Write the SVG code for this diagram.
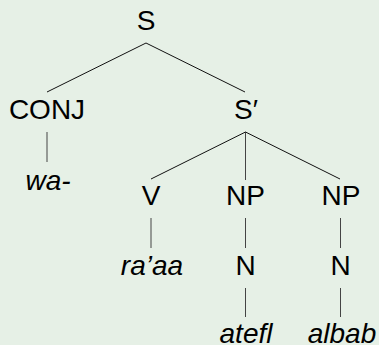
<svg xmlns="http://www.w3.org/2000/svg" width="379" height="345" viewBox="0 0 379 345">
  <style>
    .lbl { font-family: "Liberation Sans", Arial, sans-serif; font-size: 28px; fill: #000; text-anchor: middle; }
    .word { font-style: italic; }
    .edge { stroke: #111; stroke-width: 1; fill: none; }
    .stem { stroke: #444; stroke-width: 1; fill: none; }
  </style>
  <rect width="379" height="345" fill="#e6f0e6"/>

  <!-- tree branches -->
  <g id="connectors">
    <line class="edge" x1="146" y1="43" x2="47" y2="92"/>
    <line class="edge" x1="146" y1="43" x2="245" y2="92"/>
    <line class="stem" x1="47" y1="132" x2="47" y2="162"/>
    <line class="edge" x1="245.5" y1="132" x2="151" y2="179"/>
    <line class="stem" x1="245.5" y1="132" x2="245.5" y2="180"/>
    <line class="edge" x1="245.5" y1="132" x2="340" y2="179"/>
    <line class="stem" x1="151" y1="218" x2="151" y2="248"/>
    <line class="stem" x1="245.5" y1="218" x2="245.5" y2="248"/>
    <line class="stem" x1="340.5" y1="218" x2="340.5" y2="248"/>
    <line class="stem" x1="245.5" y1="288" x2="245.5" y2="317"/>
    <line class="stem" x1="340.5" y1="288" x2="340.5" y2="317"/>
  </g>

  <!-- nodes -->
  <g id="node-S"><text class="lbl" x="146" y="30">S</text></g>
  <g id="node-CONJ"><text class="lbl" x="47" y="119">CONJ</text></g>
  <g id="node-Sbar"><text class="lbl" x="246" y="119">S′</text></g>
  <g id="node-wa"><text class="lbl word" x="48" y="190">wa-</text></g>
  <g id="node-V"><text class="lbl" x="151" y="205">V</text></g>
  <g id="node-NP1"><text class="lbl" x="245.5" y="205">NP</text></g>
  <g id="node-NP2"><text class="lbl" x="341" y="205">NP</text></g>
  <g id="node-raaa"><text class="lbl word" x="152" y="275">ra’aa</text></g>
  <g id="node-N1"><text class="lbl" x="245.5" y="275">N</text></g>
  <g id="node-N2"><text class="lbl" x="340.5" y="275">N</text></g>
  <g id="node-atefl"><text class="lbl word" x="246" y="343">atefl</text></g>
  <g id="node-albab"><text class="lbl word" x="342" y="343">albab</text></g>
</svg>
